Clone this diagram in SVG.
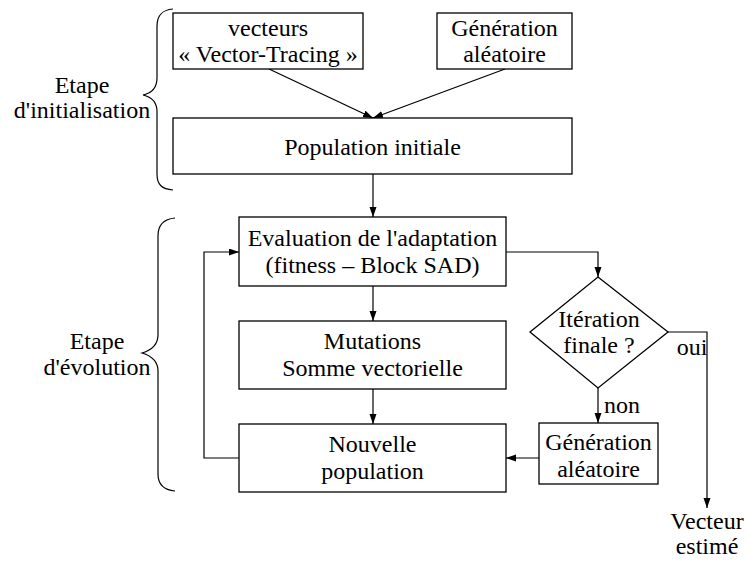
<svg xmlns="http://www.w3.org/2000/svg" width="747" height="561" viewBox="0 0 747 561">
<style>
.box{fill:#fff;stroke:#000;stroke-width:1.3}
.t{font-size:24px;fill:#000;text-anchor:middle}
.c{fill:none;stroke:#000;stroke-width:1.2}
.br{fill:none;stroke:#000;stroke-width:1.2}
</style>
<defs>
<marker id="ah" markerUnits="userSpaceOnUse" markerWidth="11" markerHeight="8" refX="10" refY="3.5" orient="auto">
<path d="M0,0 L10,3.5 L0,7 z" fill="#000"/>
</marker>
</defs>
<g font-family="'Liberation Serif', 'Times New Roman', 'DejaVu Serif', serif">
<g id="brace-init">
<path class="br" d="M173,9 C162,10 157,15 157,26 L157,78 C157,88 152,93 143,95 C152,97 157,102 157,112 L157,174 C157,185 162,189 173,190"/>
<text class="t" x="82" y="93">Etape</text>
<text class="t" x="82" y="118">d'initialisation</text>
</g>
<g id="brace-evol">
<path class="br" d="M175,218 C164,219 158,225 158,236 L158,335 C158,345 152,350 142,353 C152,356 158,361 158,371 L158,474 C158,485 164,490 175,491"/>
<text class="t" x="97" y="349">Etape</text>
<text class="t" x="97" y="375">d'évolution</text>
</g>
<g id="connectors">
<line class="c" x1="269" y1="69" x2="373" y2="118" marker-end="url(#ah)"/>
<line class="c" x1="505" y1="69" x2="373" y2="118" marker-end="url(#ah)"/>
<line class="c" x1="373" y1="174" x2="373" y2="217" marker-end="url(#ah)"/>
<line class="c" x1="373" y1="286" x2="373" y2="321" marker-end="url(#ah)"/>
<line class="c" x1="373" y1="389" x2="373" y2="424" marker-end="url(#ah)"/>
<polyline class="c" points="239,458 204,458 204,252 239,252" marker-end="url(#ah)"/>
<polyline class="c" points="506,252 598,252 598,277" marker-end="url(#ah)"/>
<line class="c" x1="598" y1="388" x2="598" y2="423" marker-end="url(#ah)"/>
<polyline class="c" points="668,332 707,332 707,508" marker-end="url(#ah)"/>
<line class="c" x1="539" y1="458" x2="506" y2="458" marker-end="url(#ah)"/>
<text class="t" x="622" y="413">non</text>
<text class="t" x="692" y="355">oui</text>
</g>
<g id="vecteurs">
<rect class="box" x="173" y="13" width="190" height="56"/>
<text class="t" x="268" y="36">vecteurs</text>
<text class="t" x="268" y="62">« Vector-Tracing »</text>
</g>
<g id="generation1">
<rect class="box" x="437" y="13" width="135" height="56"/>
<text class="t" x="504.5" y="35.5">Génération</text>
<text class="t" x="504.5" y="62">aléatoire</text>
</g>
<g id="population-initiale">
<rect class="box" x="173" y="118" width="399" height="56"/>
<text class="t" x="372.5" y="155">Population initiale</text>
</g>
<g id="evaluation">
<rect class="box" x="239" y="217" width="267" height="69"/>
<text class="t" x="372.5" y="246">Evaluation de l'adaptation</text>
<text class="t" x="372.5" y="273">(fitness – Block SAD)</text>
</g>
<g id="mutations">
<rect class="box" x="239" y="321" width="267" height="68"/>
<text class="t" x="372.5" y="349">Mutations</text>
<text class="t" x="372.5" y="376">Somme vectorielle</text>
</g>
<g id="nouvelle-population">
<rect class="box" x="239" y="424" width="267" height="68"/>
<text class="t" x="372.5" y="452">Nouvelle</text>
<text class="t" x="372.5" y="479">population</text>
</g>
<g id="iteration-finale">
<polygon class="box" points="598,277 668,332 598,388 530,332"/>
<text class="t" x="599" y="327">Itération</text>
<text class="t" x="599" y="353">finale ?</text>
</g>
<g id="generation2">
<rect class="box" x="539" y="423" width="119" height="61"/>
<text class="t" x="598.5" y="450">Génération</text>
<text class="t" x="598.5" y="477">aléatoire</text>
</g>
<g id="vecteur-estime">
<text class="t" x="707" y="529">Vecteur</text>
<text class="t" x="707" y="554">estimé</text>
</g>
</g>
</svg>
